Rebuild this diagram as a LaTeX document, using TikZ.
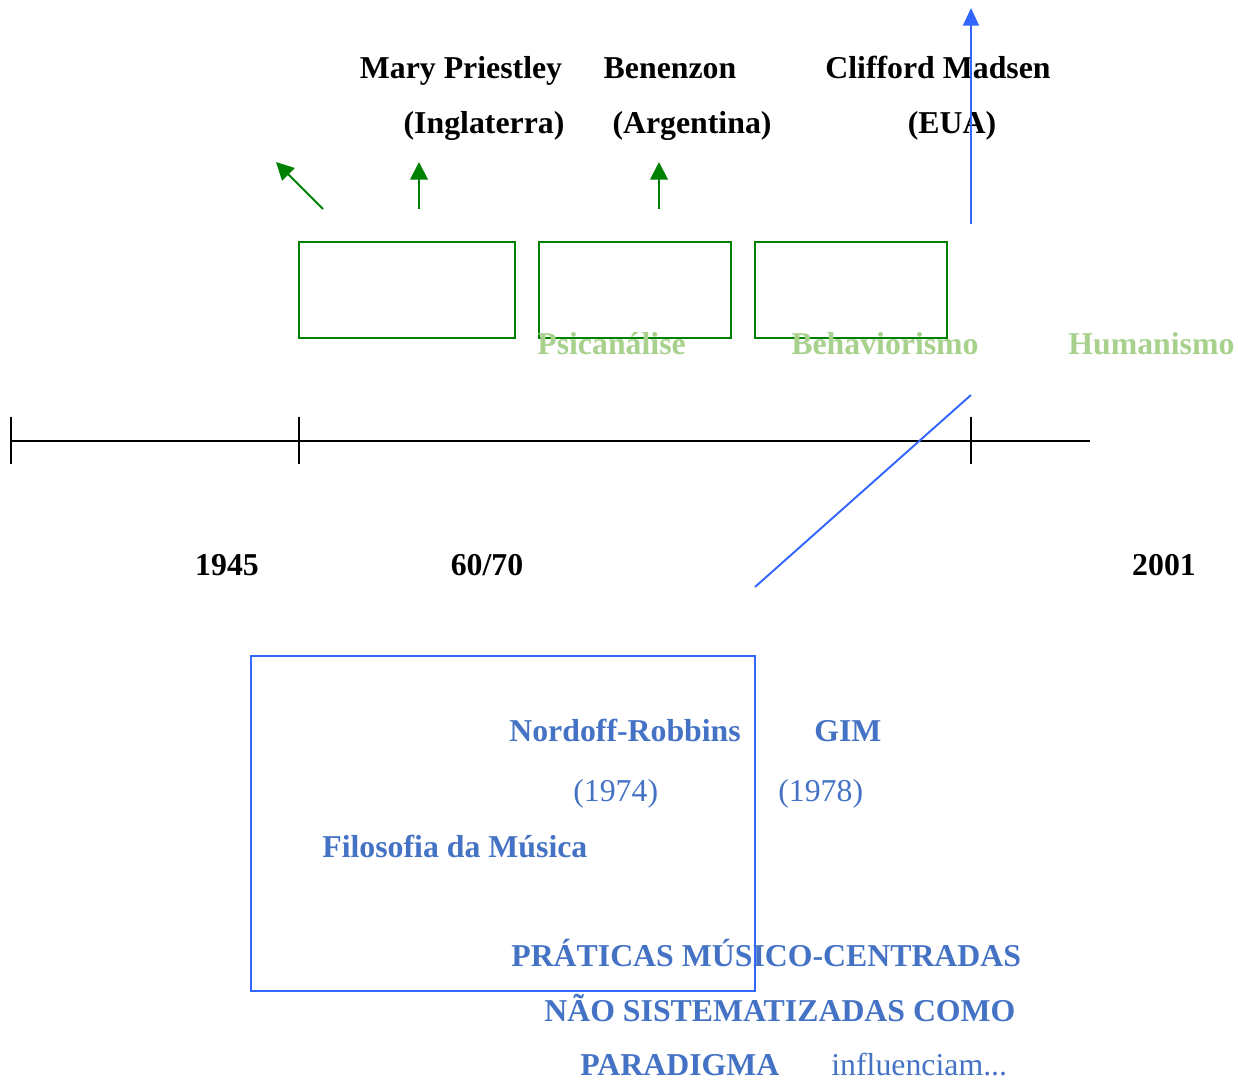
\documentclass[tikz,border=0pt]{standalone}
\usepackage{fontspec}
\setmainfont{Liberation Serif}
\usepackage{tikz}
\usetikzlibrary{arrows.meta, positioning}
\definecolor{darkgreen}{HTML}{008000}
\definecolor{lightgreen}{HTML}{A9D18E}
\definecolor{textblue}{HTML}{4472C4}
\definecolor{lineblue}{HTML}{3366FF}

\begin{document}
\begin{tikzpicture}[x=0.02cm, y=-0.02cm,
  every node/.style={inner sep=0pt, font=\fontsize{18.1}{22}\selectfont},
  person/.style={anchor=base, font=\fontsize{18.1}{22}\selectfont\bfseries},
  school/.style={anchor=base west, text=lightgreen, font=\fontsize{18.1}{22}\selectfont\bfseries},
  yearlbl/.style={anchor=base, font=\fontsize{18.1}{22}\selectfont\bfseries},
  bluebold/.style={anchor=base west, text=textblue, font=\fontsize{18.1}{22}\selectfont\bfseries},
  bluereg/.style={anchor=base west, text=textblue},
  gbox/.style={draw=darkgreen, line width=1.1pt},
  garrow/.style={draw=darkgreen, line width=1.1pt, -{Triangle[length=10pt, width=10pt]}},
  bline/.style={draw=lineblue, line width=1.1pt},
  tickline/.style={line width=1.1pt}
]
\useasboundingbox (0,0) rectangle (1238,1081);

% names
\node[person] (mary)     at (461,79)  {Mary Priestley};
\node[person] (benenzon) at (670,79)  {Benenzon};
\node[person] (madsen)   at (938,79)  {Clifford Madsen};
\node[person] (ingl)     at (484,134) {(Inglaterra)};
\node[person] (arg)      at (692,134) {(Argentina)};
\node[person] (eua)      at (952,134) {(EUA)};

% green arrows
\coordinate (a1s) at (323,209); \coordinate (a1e) at (276,162);
\coordinate (a2s) at (419,209); \coordinate (a2e) at (419,162);
\coordinate (a3s) at (659,209); \coordinate (a3e) at (659,162);
\draw[garrow] (a1s) -- (a1e);
\draw[garrow] (a2s) -- (a2e);
\draw[garrow] (a3s) -- (a3e);

% boxes
\draw[gbox] (299,242) rectangle (515,338);
\draw[gbox] (539,242) rectangle (731,338);
\draw[gbox] (755,242) rectangle (947,338);

\node[school] (psi) at (537,355)  {Psicanálise};
\node[school] (beh) at (791,355)  {Behaviorismo};
\node[school] (hum) at (1068,355) {Humanismo};

% timeline
\coordinate (t0) at (11,441);
\coordinate (t1) at (299,441);
\coordinate (t2) at (971,441);
\coordinate (tend) at (1090,441);
\draw[tickline] (t0) -- (tend);
\foreach \p in {t0,t1,t2}
  \draw[tickline] ([yshift=-23*0.02cm]\p) -- ([yshift=24*0.02cm]\p);

\node[yearlbl] (y45)   at (227,575)  {1945};
\node[yearlbl] (y6070) at (487,575)  {60/70};
\node[yearlbl] (y01)   at (1164,575) {2001};

% blue lines
\coordinate (b1s) at (971,224); \coordinate (b1e) at (971,8);
\draw[bline, -{Triangle[length=10pt, width=9pt]}] (b1s) -- (b1e);
\coordinate (b2s) at (755,587); \coordinate (b2e) at (971,395);
\draw[bline] (b2s) -- (b2e);
\draw[bline] (251,656) rectangle (755,991);

% lower texts
\node[bluebold] (nr)   at (509,741) {Nordoff-Robbins};
\node[bluebold] (gim)  at (814,741) {GIM};
\node[bluereg]  (y74)  at (573,801) {(1974)};
\node[bluereg]  (y78)  at (778,801) {(1978)};
\node[bluebold] (fil)  at (322,857) {Filosofia da Música};
\node[bluebold] (pr1)  at (511,966) {PRÁTICAS MÚSICO-CENTRADAS};
\node[bluebold] (pr2)  at (544,1021) {NÃO SISTEMATIZADAS COMO};
\node[bluebold] (pr3)  at (580,1075) {PARADIGMA};
\node[bluereg]  (infl) at (831,1075) {influenciam...};
\end{tikzpicture}
\end{document}
